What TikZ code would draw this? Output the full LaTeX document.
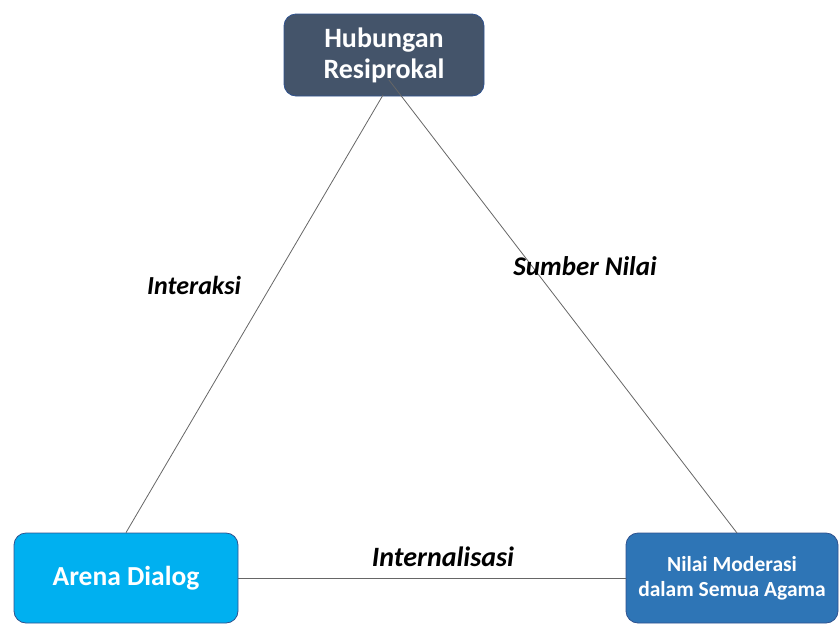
\documentclass[tikz,border=0pt]{standalone}
\usepackage{fontspec}
\setmainfont{Carlito}
\definecolor{topc}{HTML}{44546A}
\definecolor{arenac}{HTML}{00B0F0}
\definecolor{nilaic}{HTML}{2E75B6}
\definecolor{edgec}{HTML}{2F528F}
\begin{document}
\begin{tikzpicture}[x=1pt,y=-1pt,
  boxc/.style={rounded corners=12pt, draw=edgec, line width=0.8pt, text=white, font=\bfseries, align=center, inner sep=0pt},
  conn/.style={draw=black!60, line width=0.8pt},
  lbl/.style={font=\bfseries\itshape, text=black, inner sep=0pt}]
\useasboundingbox (0,0) rectangle (839,625);
\node[boxc, fill=topc, minimum width=200pt, minimum height=82pt, font=\bfseries\fontsize{28}{31}\selectfont] (top) at (384,55) {Hubungan\\Resiprokal};
\node[boxc, fill=arenac, minimum width=224pt, minimum height=90pt, font=\bfseries\fontsize{27.5}{31}\selectfont] (arena) at (126,578) {Arena Dialog};
\node[boxc, fill=nilaic, minimum width=212pt, minimum height=90pt, font=\bfseries\fontsize{21.5}{25}\selectfont] (nilai) at (732,578) {Nilai Moderasi\\dalam Semua Agama};
\coordinate (tL) at (383,95);
\coordinate (tR) at (389,80);
\coordinate (nT) at (737,533);
\draw[conn] (tL) -- (arena.north);
\draw[conn] (tR) -- (nT);
\draw[conn] (arena.east) -- (nilai.west);
\node[lbl, font=\bfseries\itshape\fontsize{26}{30}\selectfont] (l1) at (194,285) {Interaksi};
\node[lbl, font=\bfseries\itshape\fontsize{27}{30}\selectfont] (l2) at (585,266) {Sumber Nilai};
\node[lbl, font=\bfseries\itshape\fontsize{28}{30}\selectfont] (l3) at (443,557) {Internalisasi};
\end{tikzpicture}
\end{document}
